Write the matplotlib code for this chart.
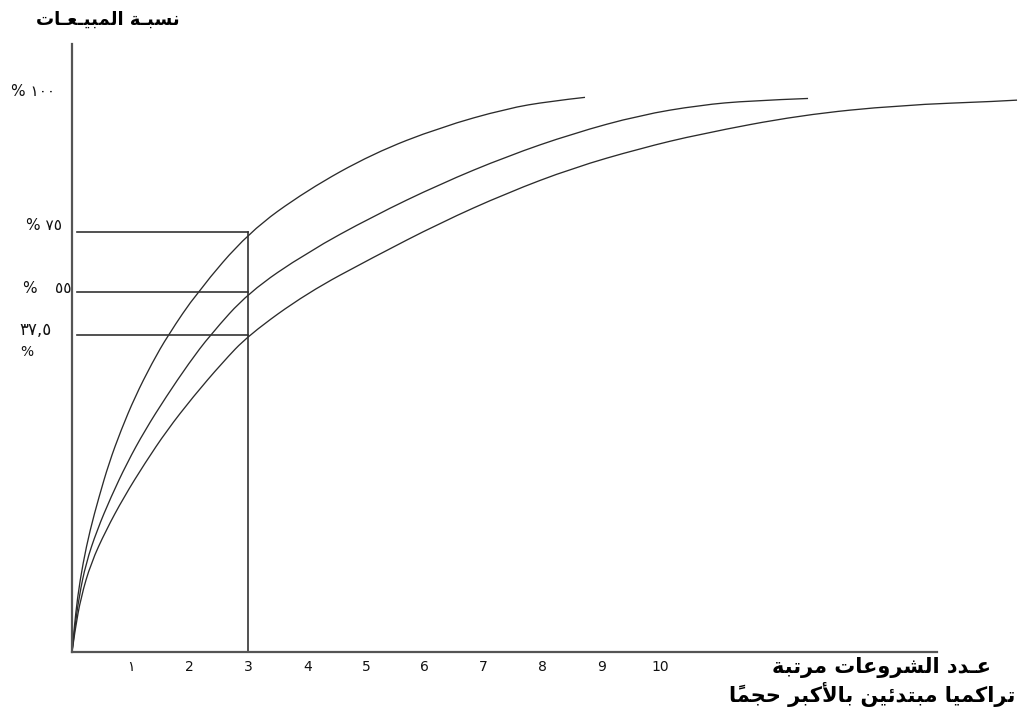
import matplotlib
matplotlib.use('Agg')
import matplotlib.pyplot as plt
from matplotlib.path import Path
from matplotlib.patches import PathPatch

# ---- data (x: number of firms, y: % of sales on the drawn scale)
curve_a_x = [0, 0.034, 0.094, 0.187, 0.306, 0.459, 0.629, 0.833, 1.071, 1.361, 1.633,
             2.126, 3.0, 3.997, 5.119, 6.259, 7.398, 8.129, 8.724]
curve_a_y = [0, 3.96, 9.89, 16.0, 21.9, 27.9, 34.0, 39.9, 45.9, 52.0, 57.0,
             64.7, 75.5, 83.1, 89.7, 94.4, 97.8, 99.1, 99.8]

curve_b_x = [0, 0.043, 0.119, 0.238, 0.425, 0.663, 0.935, 1.241, 1.599, 1.990, 2.347,
             3.0, 3.997, 5.119, 6.259, 7.398, 8.520, 9.660, 10.680, 11.531, 12.517]
curve_b_y = [0, 3.96, 9.89, 16.0, 21.9, 27.9, 34.0, 39.9, 45.9, 52.0, 57.0,
             64.7, 71.9, 78.4, 84.2, 89.2, 93.3, 96.6, 98.4, 99.2, 99.6]

curve_c_x = [0, 0.051, 0.153, 0.323, 0.578, 0.884, 1.241, 1.616, 2.058, 2.551, 3.0,
             3.997, 5.119, 6.259, 7.398, 8.520, 9.660, 10.680, 12.381, 14.082, 15.782, 16.071]
curve_c_y = [0, 3.96, 9.89, 16.0, 21.9, 27.9, 34.0, 39.9, 45.9, 52.0, 57.0,
             64.6, 71.0, 77.2, 82.6, 87.1, 90.6, 93.2, 96.6, 98.4, 99.1, 99.3]

guide_x = 3.0
guide_levels = [75.5, 64.7, 57.0]
top_level = 100.0

x_ticks = [1, 2, 3, 4, 5, 6, 7, 8, 9, 10]
x_tick_labels = ['١', '2', '3', '4', '5', '6', '7', '8', '9', '10']

y_title = 'نسبـة المبيـعـات'
x_title = ['عـدد الشروعات مرتبة', 'تراكميا مبتدئين بالأكبر حجماً']


# ---- minimal Arabic shaping (matplotlib has no shaping / bidi)
FORMS = {  # isolated, final, initial, medial
    'ا': ('\uFE8D', '\uFE8E', None, None),
    'أ': ('\uFE83', '\uFE84', None, None),
    'ب': ('\uFE8F', '\uFE90', '\uFE91', '\uFE92'),
    'ة': ('\uFE93', '\uFE94', None, None),
    'ت': ('\uFE95', '\uFE96', '\uFE97', '\uFE98'),
    'ج': ('\uFE9D', '\uFE9E', '\uFE9F', '\uFEA0'),
    'ح': ('\uFEA1', '\uFEA2', '\uFEA3', '\uFEA4'),
    'د': ('\uFEA9', '\uFEAA', None, None),
    'ر': ('\uFEAD', '\uFEAE', None, None),
    'س': ('\uFEB1', '\uFEB2', '\uFEB3', '\uFEB4'),
    'ش': ('\uFEB5', '\uFEB6', '\uFEB7', '\uFEB8'),
    'ع': ('\uFEC9', '\uFECA', '\uFECB', '\uFECC'),
    'ك': ('\uFED9', '\uFEDA', '\uFEDB', '\uFEDC'),
    'ل': ('\uFEDD', '\uFEDE', '\uFEDF', '\uFEE0'),
    'م': ('\uFEE1', '\uFEE2', '\uFEE3', '\uFEE4'),
    'ن': ('\uFEE5', '\uFEE6', '\uFEE7', '\uFEE8'),
    'و': ('\uFEED', '\uFEEE', None, None),
    'ي': ('\uFEF1', '\uFEF2', '\uFEF3', '\uFEF4'),
    'ئ': ('\uFE89', '\uFE8A', '\uFE8B', '\uFE8C'),
    'ـ': ('\u0640', '\u0640', '\u0640', '\u0640'),
    'لا': ('\uFEFB', '\uFEFC', None, None),
    'لأ': ('\uFEF7', '\uFEF8', None, None),
}
MARKS = {'\u064B'}


def shape(text):
    cl = []  # clusters: [base, marks]
    i = 0
    while i < len(text):
        ch = text[i]
        if ch in MARKS and cl:
            cl[-1][1] += ch
        elif ch == 'ل' and text[i:i + 2] in FORMS:
            cl.append([text[i:i + 2], ''])
            i += 1
        else:
            cl.append([ch, ''])
        i += 1
    out = []
    for k, (b, m) in enumerate(cl):
        f = FORMS.get(b)
        if f is None:
            out.append(b + m)
            continue
        prev = cl[k - 1][0] if k > 0 else None
        nxt = cl[k + 1][0] if k + 1 < len(cl) else None
        jp = prev in FORMS and FORMS[prev][2] is not None
        jn = f[2] is not None and nxt in FORMS
        g = f[3] if (jp and jn) else f[1] if jp else f[2] if jn else f[0]
        out.append(g + m)
    return ''.join(out[::-1])


def smooth_path(xs, ys):
    # quadratic pieces through the read points (hand-drawn look of the original)
    pts = list(zip(xs, ys))
    verts, codes = [pts[0]], [Path.MOVETO]
    for i in range(1, len(pts) - 1):
        if i < len(pts) - 2:
            end = ((pts[i][0] + pts[i + 1][0]) / 2, (pts[i][1] + pts[i + 1][1]) / 2)
        else:
            end = pts[i + 1]
        verts += [pts[i], end]
        codes += [Path.CURVE3, Path.CURVE3]
    return Path(verts, codes)


fig = plt.figure(figsize=(10.2, 7.13), dpi=100)
ax = fig.add_axes([72 / 1020, 61 / 713, 865 / 1020, 608 / 713])
ax.set_xlim(0, 14.71)
ax.set_ylim(0, 109.4)

for xs, ys in [(curve_a_x, curve_a_y), (curve_b_x, curve_b_y), (curve_c_x, curve_c_y)]:
    ax.add_patch(PathPatch(smooth_path(xs, ys), fill=False, edgecolor='#2b2b2b',
                           lw=0.95, clip_on=False))

for lv in guide_levels:
    ax.plot([0.09, guide_x], [lv, lv], color='#333333', lw=1.2)
ax.plot([guide_x, guide_x], [0, guide_levels[0]], color='#333333', lw=1.2)

for s in ['top', 'right']:
    ax.spines[s].set_visible(False)
for s in ['left', 'bottom']:
    ax.spines[s].set_color('#555555')
    ax.spines[s].set_linewidth(1.6)

ax.set_xticks(x_ticks)
ax.set_xticklabels(x_tick_labels, fontsize=10, family='DejaVu Sans')
ax.tick_params(axis='x', length=0, pad=6, colors='#111111')
ax.set_yticks([])

# y labels (typed in visual order)
ykw = dict(xycoords='data', textcoords='offset pixels', va='center',
           family='DejaVu Sans', color='#111111', annotation_clip=False)
ax.annotate('% ١٠٠', xy=(0, top_level), xytext=(-17, 5), ha='right', fontsize=11, **ykw)
ax.annotate('% ٧٥', xy=(0, guide_levels[0]), xytext=(-10, 7), ha='right', fontsize=11, **ykw)
ax.annotate('%', xy=(0, guide_levels[1]), xytext=(-50, 4), ha='left', fontsize=11, **ykw)
ax.annotate('٥٥', xy=(0, guide_levels[1]), xytext=(0, 4), ha='right', fontsize=11, **ykw)
ax.annotate('٣٧,٥', xy=(0, guide_levels[2]), xytext=(-20, 5), ha='right', fontsize=12, **ykw)
ax.annotate('%', xy=(0, guide_levels[2]), xytext=(-52, -17), ha='left', fontsize=10, **ykw)

fig.text(108 / 1020, 1 - 20 / 713, shape(y_title), ha='center', va='center',
         fontsize=13, fontweight='bold', family='DejaVu Sans')
fig.text(882 / 1020, 1 - 667 / 713, shape(x_title[0]), ha='center', va='center',
         fontsize=15, fontweight='bold', family='DejaVu Sans')
fig.text(872 / 1020, 1 - 694 / 713, shape(x_title[1]), ha='center', va='center',
         fontsize=15, fontweight='bold', family='DejaVu Sans')

fig.savefig('out.png', dpi=100, facecolor='white')
